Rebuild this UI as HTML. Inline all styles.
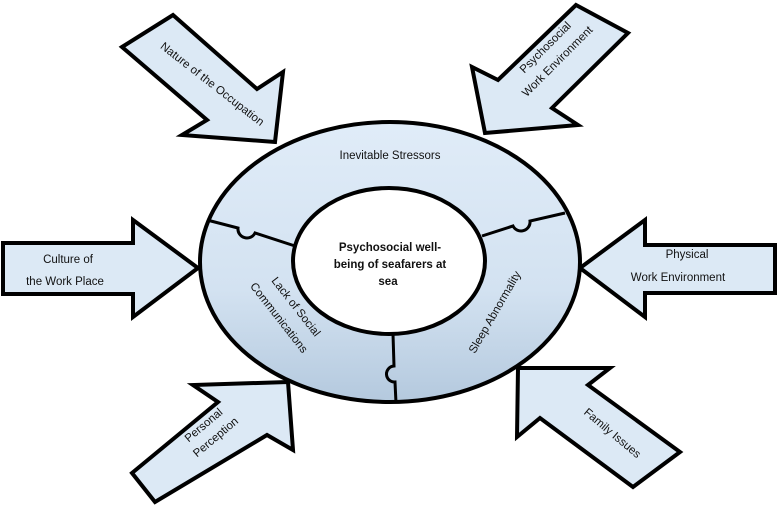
<!DOCTYPE html>
<html><head><meta charset="utf-8"><style>
html,body{margin:0;padding:0;background:#fff;}
svg{display:block;}
text{font-family:"Liberation Sans",sans-serif;font-size:11.5px;fill:#111;}
</style></head><body>
<svg width="780" height="507" viewBox="0 0 780 507" xmlns="http://www.w3.org/2000/svg">
<defs>
<linearGradient id="g" x1="0" y1="0" x2="0" y2="1">
<stop offset="0" stop-color="#e0ecf8"/><stop offset="0.6" stop-color="#d3e2f1"/><stop offset="1" stop-color="#b4c9de"/>
</linearGradient>
</defs>
<g fill="#dce9f5" stroke="#000" stroke-width="4" stroke-linejoin="miter">
<polygon points="122,47 173,15 257,89 283,72 275,142 182,135 207,120"/>
<polygon points="576,5 628,33 552,108 578,125 485,133 472,67 498,80"/>
<polygon points="775,245 645,245 645,220 580,268 645,317 645,293 775,293"/>
<polygon points="518,368 610,368 588,385 680,452 633,487 540,418 517,437"/>
<polygon points="3,243 133,243 133,220 198,268 133,317 133,294 3,294"/>
<polygon points="288,382 193,385 218,402 132,473 155,502 267,435 293,450"/>
</g>
<ellipse cx="390" cy="262" rx="190" ry="140" fill="url(#g)" stroke="#000" stroke-width="4"/>
<ellipse cx="389" cy="261" rx="96" ry="73" fill="#fff" stroke="#000" stroke-width="4"/>
<g fill="none" stroke="#000" stroke-width="3">
<path d="M207,220 L238,228 A9,9 0 0 0 255,233 L295,246"/>
<path d="M482,236 L513,226 A9,9 0 0 0 530,221 L565,213"/>
<path d="M393,334 L394,366 A8,8 0 0 0 395,382 L396,403"/>
</g>
<text x="390" y="159" text-anchor="middle">Inevitable Stressors</text>
<g text-anchor="middle" style="font-weight:bold">
<text x="390" y="251" style="font-weight:bold">Psychosocial well-</text>
<text x="390" y="268" style="font-weight:bold">being of seafarers at</text>
<text x="388" y="285" style="font-weight:bold">sea</text>
</g>
<g text-anchor="middle">
<text transform="translate(293,309) rotate(52)">Lack of Social</text>
<text transform="translate(276,320) rotate(52)">Communications</text>
<text transform="translate(498,314) rotate(-60)">Sleep Abnormality</text>
<text transform="translate(210,87) rotate(38)">Nature of the Occupation</text>
<text transform="translate(548,50) rotate(-45)">Psychosocial</text>
<text transform="translate(560,64) rotate(-45)">Work Environment</text>
<text x="687" y="258">Physical</text>
<text x="678" y="281">Work Environment</text>
<text x="68" y="263">Culture of</text>
<text x="65" y="285">the Work Place</text>
<text transform="translate(610,436) rotate(40)">Family Issues</text>
<text transform="translate(206,428) rotate(-40)">Personal</text>
<text transform="translate(218,440) rotate(-40)">Perception</text>
</g>
</svg>
</body></html>
